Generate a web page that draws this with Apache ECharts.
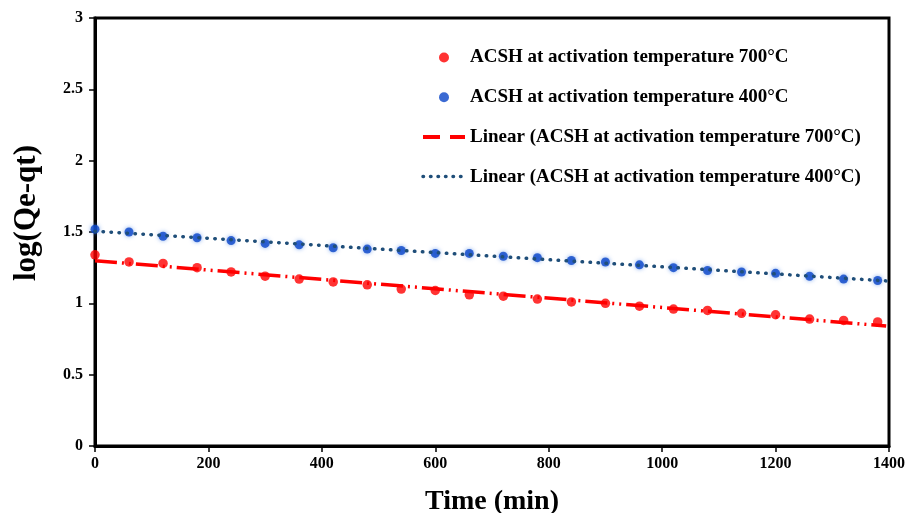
<!DOCTYPE html>
<html><head><meta charset="utf-8">
<script src="https://cdn.jsdelivr.net/npm/echarts@6/dist/echarts.min.js"></script>
<style>html,body{margin:0;padding:0;background:#fff}#c{width:910px;height:513px}</style>
</head><body><div id="c"></div>
<script>
var times = [0,60,120,180,240,300,360,420,480,540,600,660,720,780,840,900,960,1020,1080,1140,1200,1260,1320,1380];
var acsh700 = [1.34,1.29,1.28,1.25,1.22,1.19,1.17,1.15,1.13,1.10,1.09,1.06,1.05,1.03,1.01,1.00,0.98,0.96,0.95,0.93,0.92,0.89,0.88,0.87];
var acsh400 = [1.52,1.50,1.47,1.46,1.44,1.42,1.41,1.39,1.38,1.37,1.35,1.35,1.33,1.32,1.30,1.29,1.27,1.25,1.23,1.22,1.21,1.19,1.17,1.16];
var seriesNames = ['ACSH at activation temperature 700°C','ACSH at activation temperature 400°C','Linear (ACSH at activation temperature 700°C)','Linear (ACSH at activation temperature 400°C)'];
var yTicks = [0,0.5,1,1.5,2,2.5,3];
var xTicks = [0,200,400,600,800,1000,1200,1400];
var trendEnd = 1395;

function fit(xs, ys){
  var n=xs.length,sx=0,sy=0,sxx=0,sxy=0;
  for(var i=0;i<n;i++){sx+=xs[i];sy+=ys[i];sxx+=xs[i]*xs[i];sxy+=xs[i]*ys[i];}
  var b=(n*sxy-sx*sy)/(n*sxx-sx*sx);var a=(sy-b*sx)/n;
  return [[0,a],[trendEnd,a+b*trendEnd]];
}
function pairs(xs,ys){return xs.map(function(x,i){return [x,ys[i]];});}

var font = '"Liberation Serif","Times New Roman",serif';
var chart = echarts.init(document.getElementById('c'));
chart.setOption({
  animation:false,
  backgroundColor:'#fff',
  grid:{left:95,right:21,top:18,bottom:67,outerBoundsMode:'none',containLabel:false,show:true,borderColor:'#000',borderWidth:3,backgroundColor:'transparent'},
  legend:{
    orient:'vertical', left:421, top:48, itemWidth:42, itemHeight:10, itemGap:20.7, padding:0,
    textStyle:{fontFamily:font,fontWeight:'bold',fontSize:19,color:'#000'},
    data:[
      {name:seriesNames[0],icon:'circle'},
      {name:seriesNames[1],icon:'circle'},
      {name:seriesNames[2],itemStyle:{opacity:0},lineStyle:{color:'#ff0000',width:4,type:[17,10],cap:'butt'}},
      {name:seriesNames[3],itemStyle:{opacity:0},lineStyle:{color:'#1f4e79',width:3.5,type:[0.5,7],cap:'round'}}
    ]
  },
  xAxis:{
    type:'value',min:0,max:1400,interval:200,
    name:'Time (min)',nameLocation:'middle',nameGap:42,
    nameTextStyle:{fontFamily:font,fontWeight:'bold',fontSize:28,color:'#000'},
    axisLine:{lineStyle:{color:'#000',width:3}},
    axisTick:{show:true,length:6,lineStyle:{color:'#000',width:1.5}},
    axisLabel:{fontFamily:font,fontWeight:'bold',fontSize:16,color:'#000',margin:10,
      formatter:function(v){return xTicks.indexOf(v)>=0?String(v):'';}},
    splitLine:{show:false}
  },
  yAxis:{
    type:'value',min:0,max:3,interval:0.5,
    name:'log(Qe-qt)',nameLocation:'middle',nameGap:53,
    nameTextStyle:{fontFamily:font,fontWeight:'bold',fontSize:31,color:'#000',padding:[0,0,0,38]},
    axisLine:{lineStyle:{color:'#000',width:3}},
    axisTick:{show:true,length:6,lineStyle:{color:'#000',width:1.5}},
    axisLabel:{fontFamily:font,fontWeight:'bold',fontSize:16,color:'#000',margin:12,
      formatter:function(v){return yTicks.indexOf(v)>=0?String(v):'';}},
    splitLine:{show:false}
  },
  series:[
    {name:seriesNames[0],type:'scatter',data:pairs(times,acsh700),symbolSize:9.5,
      itemStyle:{color:'#ff0000'}},
    {name:seriesNames[1],type:'scatter',data:pairs(times,acsh400),symbolSize:9,
      itemStyle:{color:'#0a45c8',shadowBlur:4,shadowColor:'rgba(70,130,230,0.8)'}},
    {name:seriesNames[2],type:'line',data:fit(times,acsh700),showSymbol:false,symbol:'none',
      lineStyle:{color:'#ff0000',width:3.5,type:[22,5,2,5,2,5]},itemStyle:{color:'#ff0000'}},
    {name:seriesNames[3],type:'line',data:fit(times,acsh400),showSymbol:false,symbol:'none',
      lineStyle:{color:'#1f4e79',width:3.5,type:[0.5,7.5],cap:'round'},itemStyle:{color:'#1f4e79'}}
  ]
});
</script></body></html>
